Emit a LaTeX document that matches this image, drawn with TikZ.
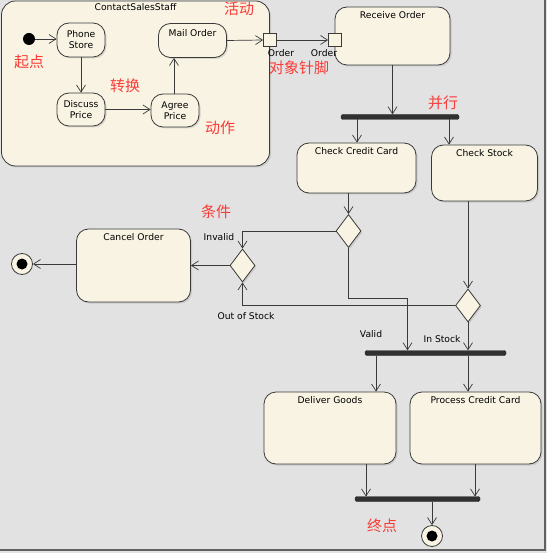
\documentclass[tikz,border=0pt]{standalone}
\usepackage{fontspec}
\setmainfont{DejaVu Sans}
\newfontfamily\cjk{Noto Sans CJK SC}
\usetikzlibrary{arrows.meta,shapes.geometric,shadows}
\definecolor{bg}{RGB}{226,226,226}
\definecolor{cream}{RGB}{248,243,226}
\definecolor{ln}{RGB}{58,58,58}
\definecolor{note}{RGB}{250,60,55}
\begin{document}
\begin{tikzpicture}[x=1pt,y=-1pt,
  txt/.style={font=\fontsize{9.2}{11}\selectfont, text=black, inner sep=1pt},
  action/.style={draw=ln, fill=cream, line width=0.8pt, rounded corners=12pt, inner sep=0pt,
     drop shadow={shadow xshift=1.5pt, shadow yshift=-1.5pt, opacity=0.25}},
  title/.style={label={[txt, anchor=north, yshift=-3.5pt]north:#1}},
  decision/.style={draw=ln, fill=cream, line width=0.8pt, diamond, inner sep=0pt,
     minimum width=25pt, minimum height=33pt, drop shadow={shadow xshift=1.5pt, shadow yshift=-1.5pt, opacity=0.25}},
  bar/.style={fill=ln!85!black, draw=ln!85!black, rounded corners=1.5pt, inner sep=0pt, minimum height=5pt},
  pin/.style={draw=ln, fill=cream, line width=0.8pt, inner sep=0pt, minimum size=13pt},
  endnode/.style={circle, draw=ln, fill=cream, line width=0.8pt, inner sep=0pt, minimum size=21pt},
  arr/.style={draw=ln, line width=0.7pt, -{Straight Barb[length=7pt,width=9pt]}},
  cn/.style={font=\cjk\fontsize{15}{15}\selectfont, text=note, inner sep=0pt}
]
\useasboundingbox (0,0) rectangle (547,553);
\fill[bg] (0,0) rectangle (547,553);
\draw[ln!80, line width=1.2pt] (545,0) -- (545,550) -- (0,550);

% container
\node[action, rounded corners=14pt, minimum width=268pt, minimum height=165pt,
      label={[txt, anchor=north, yshift=-1.5pt]north:ContactSalesStaff}] (css) at (135.5,83.5) {};

% initial
\node[circle, fill=black, inner sep=0pt, minimum size=12pt] (init) at (29,39) {};

% actions inside container
\node[action, minimum width=48pt, minimum height=34pt, align=center, txt] (phone) at (81,40) {Phone\\Store};
\node[action, minimum width=48pt, minimum height=33pt, align=center, txt] (discuss) at (81,109.5) {Discuss\\Price};
\node[action, minimum width=48pt, minimum height=33pt, align=center, txt] (agree) at (175,110.5) {Agree\\Price};
\node[action, minimum width=68pt, minimum height=34pt,
      label={[txt, anchor=north, yshift=-5pt]north:Mail Order}] (mail) at (192.5,40.5) {};

% pins
\node[pin] (pinout) at (270,40) {};
\node[txt] (lpo) at (281,53) {Order};

% receive order
\node[action, minimum width=115pt, minimum height=58pt, title={Receive Order}] (recv) at (392.5,36) {};
\node[pin] (pinin) at (335,40) {};
\node[txt] (lpi) at (324,53) {Order};

% fork 1
\node[bar, minimum width=118pt] (fork1) at (400,117) {};

% checks
\node[action, minimum width=119pt, minimum height=50pt, title={Check Credit Card}] (ccc) at (356.5,168) {};
\node[action, minimum width=106pt, minimum height=56pt, title={Check Stock}] (cs) at (484.5,173) {};

% decisions
\node[decision] (dec1) at (348.5,231) {};
\node[decision] (dec2) at (242.5,265.5) {};
\node[decision] (dec3) at (468,305.5) {};

% cancel
\node[action, minimum width=114pt, minimum height=73pt, title={Cancel Order}] (cancel) at (133.5,265.5) {};
\node[endnode] (fin1) at (22,264) {};
\fill[black] (fin1) circle (5.5pt);

% fork 2
\node[bar, minimum width=141pt] (fork2) at (435.5,353) {};

% deliver / process
\node[action, minimum width=132pt, minimum height=72pt, title={Deliver Goods}] (deliver) at (330,428) {};
\node[action, minimum width=131pt, minimum height=72pt, title={Process Credit Card}] (process) at (475.5,428) {};

% join
\node[bar, minimum width=125pt] (join) at (417.5,499) {};
\node[endnode] (fin2) at (432,536) {};
\fill[black] (fin2) circle (5.5pt);

% edge labels
\node[txt] (linv) at (219,237) {Invalid};
\node[txt] (loos) at (246,316) {Out of Stock};
\node[txt] (lval) at (371,334) {Valid};
\node[txt] (lins) at (442,339) {In Stock};

% chinese notes
\node[cn] (n1) at (239,9) {活动};
\node[cn] (n2) at (29,62) {起点};
\node[cn] (n3) at (125,86) {转换};
\node[cn] (n4) at (220,128) {动作};
\node[cn] (n5) at (299,68) {对象针脚};
\node[cn] (n6) at (443,103) {并行};
\node[cn] (n7) at (216,212) {条件};
\node[cn] (n8) at (382,526) {终点};

% helper coordinates
\coordinate (f1a) at (357,119.5);
\coordinate (f1b) at (449,119.5);
\coordinate (v1) at (348.5,298);
\coordinate (v2) at (407.5,298);
\coordinate (f2a) at (376,355.5);
\coordinate (f2b) at (468,355.5);
\coordinate (ja) at (366,496.5);
\coordinate (jb) at (475,496.5);
\coordinate (jc) at (432,501.5);

% connectors
\draw[arr] (init) -- (init -| phone.west);
\draw[arr] (phone) -- (discuss);
\draw[arr] (discuss.east) -- (discuss.east -| agree.west);
\draw[arr] (agree.north -| 174,0) -- (mail.south -| 174,0);
\draw[arr] (mail.east) -- (pinout.west);
\draw[arr] (pinout.east) -- (pinin.west);
\draw[arr] (recv.south) -- (recv.south |- fork1.north);
\draw[arr] (f1a) -- (f1a |- ccc.north);
\draw[arr] (f1b) -- (f1b |- cs.north);
\draw[arr] (dec1 |- ccc.south) -- (dec1.north);
\draw[arr] (dec1.west) -- (dec2 |- dec1.west) -- (dec2.north);
\draw[arr] (dec1.south) -- (v1) -- (v2) -- (v2 |- fork2.north);
\draw[arr] (dec3 |- cs.south) -- (dec3.north);
\draw[arr] (dec3.west) -- (dec2 |- dec3.west) -- (dec2.south);
\draw[arr] (dec3.south) -- (dec3 |- fork2.north);
\draw[arr] (dec2.west) -- (dec2.west -| cancel.east);
\draw[arr] (cancel.west |- fin1) -- (fin1.east);
\draw[arr] (f2a) -- (f2a |- deliver.north);
\draw[arr] (f2b) -- (f2b |- process.north);
\draw[arr] (ja |- deliver.south) -- (ja);
\draw[arr] (jb |- process.south) -- (jb);
\draw[arr] (jc) -- (fin2.north);
\end{tikzpicture}
\end{document}
